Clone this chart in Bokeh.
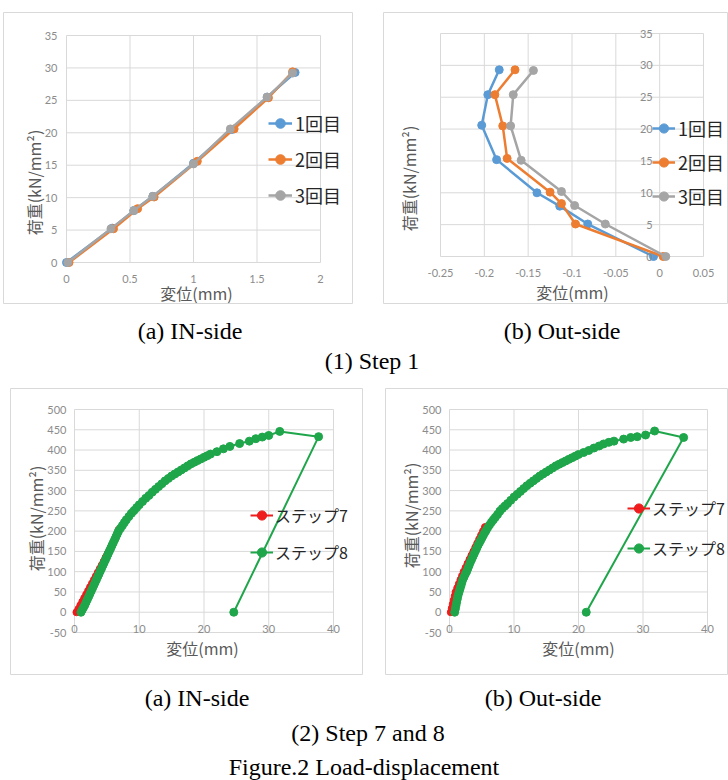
import math
from bokeh.plotting import figure
from bokeh.models import (ColumnDataSource, Legend, LegendItem, Label,
                          Range1d, Div, Spacer)
from bokeh.layouts import row, column
from bokeh.embed import file_html
from bokeh.resources import INLINE
from bokeh.core.properties import value

# ---------------- data ----------------
# (1) Step 1, IN-side : displacement (mm) / load
in1_x = [0.0, 0.36, 0.53, 0.68, 1.00, 1.30, 1.58, 1.80]
in1_y = [0.0, 5.3, 8.0, 10.2, 15.3, 20.5, 25.5, 29.3]
in2_x = [0.02, 0.37, 0.56, 0.69, 1.03, 1.32, 1.59, 1.78]
in2_y = [0.0, 5.2, 8.3, 10.1, 15.6, 20.6, 25.4, 29.4]
in3_x = [0.01, 0.35, 0.53, 0.68, 1.00, 1.29, 1.58, 1.78]
in3_y = [0.0, 5.2, 8.0, 10.2, 15.2, 20.6, 25.5, 29.2]

# (1) Step 1, Out-side
out1_x = [-0.007, -0.082, -0.114, -0.140, -0.186, -0.203, -0.196, -0.183]
out1_y = [0.0, 5.1, 7.9, 10.0, 15.2, 20.6, 25.4, 29.3]
out2_x = [0.004, -0.096, -0.112, -0.125, -0.174, -0.179, -0.188, -0.165]
out2_y = [0.0, 5.1, 8.3, 10.1, 15.4, 20.5, 25.4, 29.3]
out3_x = [0.007, -0.062, -0.097, -0.112, -0.158, -0.170, -0.167, -0.144]
out3_y = [0.0, 5.1, 8.0, 10.2, 15.1, 20.5, 25.4, 29.2]

step1_names = ["1回目", "2回目", "3回目"]

# (2) Step 7 and 8, IN-side
in7_x = [0.3, 0.6, 0.9, 1.2, 1.5, 1.8, 2.1, 2.4, 2.7, 3.0, 3.3, 3.6, 3.9, 4.2,
         4.5, 4.8, 5.1, 5.4, 5.7, 6.0, 6.3, 6.6, 6.8]
in7_y = [0, 8, 17, 26, 35, 44, 53, 62, 71, 80, 89, 98, 107, 116,
         125, 135, 144, 153, 163, 172, 182, 193, 203]
in8_x = [1.0, 1.2, 1.4, 1.6, 1.8, 2.0, 2.2, 2.4, 2.6, 2.8, 3.0, 3.2, 3.4, 3.6,
         3.8, 4.0, 4.2, 4.4, 4.6, 4.8, 5.0, 5.2, 5.4, 5.6, 5.8, 6.0, 6.2, 6.4,
         6.6, 6.8, 7.1, 7.4, 7.7, 8.0, 8.4, 8.8, 9.2, 9.6, 10.0, 10.5, 11.0,
         11.5, 12.0, 12.5, 13.0, 13.5, 14.0, 14.5, 15.0, 15.5, 16.0, 16.5,
         17.0, 17.5, 18.0, 18.5, 19.0, 19.5, 20.0, 20.5, 21.0, 22.0, 23.0,
         24.0, 25.5, 27.0, 28.0, 29.0, 30.0, 31.7, 37.7, 24.6]
in8_y = [0, 6, 12, 18, 25, 32, 39, 46, 53, 60, 67, 74, 81, 88,
         95, 102, 109, 116, 123, 130, 137, 144, 151, 158, 165, 172, 179, 186,
         193, 200, 207, 214, 221, 228, 236, 244, 251, 258, 265, 273, 281,
         288, 296, 303, 310, 317, 324, 330, 336, 341, 346, 351,
         356, 361, 366, 370, 374, 378, 382, 386, 390, 396, 403,
         409, 416, 422, 428, 432, 436, 446, 433, 0]

# (2) Step 7 and 8, Out-side
out7_x = [0.2, 0.35, 0.5, 0.65, 0.8, 0.95, 1.2, 1.45, 1.7, 1.95, 2.2, 2.5,
          2.8, 3.1, 3.4, 3.7, 4.0, 4.3, 4.6, 4.9, 5.2, 5.5]
out7_y = [0, 10, 20, 30, 40, 50, 60, 70, 80, 90, 100, 110,
          120, 130, 140, 150, 160, 170, 180, 190, 200, 210]
out8_x = [0.8, 0.9, 1.0, 1.1, 1.2, 1.3, 1.45, 1.6, 1.75, 1.9, 2.05, 2.25, 2.45,
          2.65, 2.85, 3.05, 3.25, 3.45, 3.65, 3.85, 4.05, 4.25, 4.45, 4.65,
          4.85, 5.05, 5.25, 5.45, 5.65, 5.9, 6.2, 6.5, 6.8, 7.1, 7.45, 7.8,
          8.2, 8.6, 9.0, 9.5, 10.0, 10.5, 11.0, 11.5, 12.0, 12.5, 13.0, 13.5,
          14.0, 14.5, 15.0, 15.5, 16.0, 16.5, 17.0, 17.5, 18.0, 18.5, 19.0,
          19.5, 20.0, 20.8, 21.6, 22.4, 23.2, 23.9, 24.7, 25.5, 27.0, 28.1,
          29.1, 30.4, 31.8, 36.3, 21.2]
out8_y = [0, 8, 16, 24, 32, 40, 48, 56, 64, 72, 80, 87, 94,
          100, 108, 116, 124, 131, 138, 145, 152, 159, 166, 172,
          178, 184, 190, 196, 201, 208, 215, 222, 228, 234, 241, 249,
          256, 262, 268, 276, 284, 291, 298, 305, 312, 318, 324, 330,
          336, 341, 346, 351, 356, 361, 365, 369, 373, 377, 381,
          385, 389, 394, 399, 405, 410, 415, 419, 422, 427, 431,
          433, 437, 447, 431, 0]

step78_names = ["ステップ7", "ステップ8"]

# tick values / labels
tl_xticks = [0, 0.5, 1, 1.5, 2]
tl_xlabels = ["0", "0.5", "1", "1.5", "2"]
s1_yticks = [0, 5, 10, 15, 20, 25, 30, 35]
s1_ylabels = ["0", "5", "10", "15", "20", "25", "30", "35"]
tr_xticks = [-0.25, -0.2, -0.15, -0.1, -0.05, 0, 0.05]
tr_xlabels = ["-0.25", "-0.2", "-0.15", "-0.1", "-0.05", "0", "0.05"]
b_xticks = [0, 10, 20, 30, 40]
b_xlabels = ["0", "10", "20", "30", "40"]
b_yticks = [-50, 0, 50, 100, 150, 200, 250, 300, 350, 400, 450, 500]
b_ylabels = ["-50", "0", "50", "100", "150", "200", "250", "300", "350",
             "400", "450", "500"]

x_title = "変位(mm)"
y_title = "荷重(kN/mm²)"
captions_top = ["(a) IN-side", "(b) Out-side"]
caption_step1 = "(1) Step 1"
captions_bot = ["(a) IN-side", "(b) Out-side"]
caption_step78 = "(2) Step 7 and 8"
caption_fig = "Figure.2 Load-displacement"

# ---------------- styles ----------------
BLUE, ORANGE, GRAY = "#5B9BD5", "#ED7D31", "#A5A5A5"
RED, GREEN = "#EE1C1C", "#1FA64B"
GRID = "#d9d9d9"
TICK_COLOR = "#8c8c8c"
TITLE_COLOR = "#595959"
LEG_COLOR = "#262626"
CJK = "Noto Sans CJK JP"
LAT = "Lato"


class Chart:
    """Figure whose frame is the whole chart area; the Excel-like plot area
    (L, T, PW, PH in pixels) is mapped to the data extents via the ranges."""

    def __init__(self, W, H, L, T, PW, PH, xticks, yticks):
        self.x0, self.x1 = xticks[0], xticks[-1]
        self.y0, self.y1 = yticks[0], yticks[-1]
        self.sx = (self.x1 - self.x0) / PW
        self.sy = (self.y1 - self.y0) / PH
        self.W, self.H, self.L, self.T, self.PW, self.PH = W, H, L, T, PW, PH
        xr = Range1d(self.x0 - L * self.sx, self.x1 + (W - L - PW) * self.sx)
        yr = Range1d(self.y0 - (H - T - PH) * self.sy, self.y1 + T * self.sy)
        self.xs, self.ye = xr.start, yr.end
        p = figure(width=W, height=H, x_range=xr, y_range=yr,
                   x_axis_type=None, y_axis_type=None,
                   output_backend="svg", toolbar_location=None,
                   min_border=0, margin=0)
        p.outline_line_color = "#d9d9d9"
        p.background_fill_color = "white"
        p.border_fill_color = "white"
        p.grid.visible = False
        self.p = p
        # gridlines from the tick arrays
        nx, ny = len(xticks), len(yticks)
        p.segment(x0=xticks, x1=xticks, y0=[self.y0] * nx, y1=[self.y1] * nx,
                  line_color=GRID, line_width=1)
        p.segment(x0=[self.x0] * ny, x1=[self.x1] * ny, y0=yticks, y1=yticks,
                  line_color=GRID, line_width=1)

    def X(self, px):
        return self.xs + px * self.sx

    def Y(self, py):
        return self.ye - py * self.sy

    def ticklabels_x(self, ticks, labels, py):
        self.p.text(x=ticks, y=[self.Y(py)] * len(ticks), text=labels,
                    text_font=value(LAT), text_font_size="11px",
                    text_color=TICK_COLOR, text_align="center",
                    text_baseline="middle")

    def ticklabels_y(self, ticks, labels, xdata):
        self.p.text(x=[xdata] * len(ticks), y=ticks, text=labels,
                    text_font=value(LAT), text_font_size="11px",
                    text_color=TICK_COLOR, text_align="right",
                    text_baseline="middle")

    def titles(self, xpos, ypos):
        self.p.add_layout(Label(x=self.X(xpos[0]), y=self.Y(xpos[1]),
                                text=x_title, text_font=CJK,
                                text_font_size="16px", text_color=TITLE_COLOR,
                                text_align="center", text_baseline="middle"))
        self.p.add_layout(Label(x=self.X(ypos[0]), y=self.Y(ypos[1]),
                                text=y_title, text_font=CJK,
                                text_font_size="16px", text_color=TITLE_COLOR,
                                angle=math.pi / 2, text_align="center",
                                text_baseline="middle"))

    def series(self, xs, ys, color, lw, ms):
        src = ColumnDataSource(dict(x=xs, y=ys))
        l = self.p.line("x", "y", source=src, line_color=color, line_width=lw)
        s = self.p.scatter("x", "y", source=src, size=ms, fill_color=color,
                           line_color=color, marker="circle")
        return [l, s]

    def legend(self, items, left, first_center, pitch, fs, gw=24, stand=3):
        rh = 30
        sp_ = pitch - rh
        n = len(items)
        top = first_center - rh / 2
        bottom = top + n * rh + (n - 1) * sp_
        lg = Legend(items=[LegendItem(label=t, renderers=r) for t, r in items],
                    location=(left, int(round(self.H - bottom))),
                    spacing=int(sp_), padding=0, margin=0,
                    glyph_width=gw, glyph_height=rh, label_height=rh,
                    label_standoff=stand, label_text_font=CJK,
                    label_text_font_size=fs, label_text_color=LEG_COLOR,
                    border_line_color=None, background_fill_alpha=0)
        self.p.add_layout(lg)


# ---- (1a) Step 1 IN-side : box at (3,12) 350x292 ----
c1 = Chart(350, 292, 63, 23, 254, 227, tl_xticks, s1_yticks)
r1 = c1.series(in1_x, in1_y, BLUE, 2.5, 8)
r2 = c1.series(in2_x, in2_y, ORANGE, 2.5, 8)
r3 = c1.series(in3_x, in3_y, GRAY, 2.5, 8)
c1.ticklabels_x(tl_xticks, tl_xlabels, 23 + 227 + 16)
c1.ticklabels_y(s1_yticks, s1_ylabels, c1.X(63 - 9))
c1.titles((193, 280), (30, 170))
c1.legend(list(zip(step1_names, [r1, r2, r3])), 265, 111, 36, "18px")

# ---- (1b) Step 1 Out-side : box at (383,12) 345x292 ----
c2 = Chart(345, 292, 57, 21, 263, 223, tr_xticks, s1_yticks)
r1 = c2.series(out1_x, out1_y, BLUE, 2.5, 8)
r2 = c2.series(out2_x, out2_y, ORANGE, 2.5, 8)
r3 = c2.series(out3_x, out3_y, GRAY, 2.5, 8)
c2.ticklabels_x(tr_xticks, tr_xlabels, 21 + 223 + 16)
c2.ticklabels_y(s1_yticks, s1_ylabels, 0 - 7 * c2.sx)
c2.titles((189, 279), (25, 166))
c2.legend(list(zip(step1_names, [r1, r2, r3])), 269, 116, 34, "18px", gw=23)

# ---- (2a) Step 7/8 IN-side : box at (10,388) 353x287 ----
c3 = Chart(353, 287, 64, 21, 259, 223, b_xticks, b_yticks)
ra = c3.series(in7_x, in7_y, RED, 2, 7)
rb = c3.series(in8_x, in8_y, GREEN, 2, 8)
c3.ticklabels_x(b_xticks, b_xlabels, 21 + 223 - 4)
c3.ticklabels_y(b_yticks, b_ylabels, c3.X(64 - 8))
c3.titles((192, 259), (25, 130))
c3.legend(list(zip(step78_names, [ra, rb])), 240, 127, 37, "16px", gw=23, stand=2)

# ---- (2b) Step 7/8 Out-side : box at (385,388) 343x287 ----
c4 = Chart(343, 287, 64, 21, 258, 223, b_xticks, b_yticks)
ra = c4.series(out7_x, out7_y, RED, 2, 7)
rb = c4.series(out8_x, out8_y, GREEN, 2, 8)
c4.ticklabels_x(b_xticks, b_xlabels, 21 + 223 - 4)
c4.ticklabels_y(b_yticks, b_ylabels, c4.X(64 - 8))
c4.titles((193, 259), (25, 127))
c4.legend(list(zip(step78_names, [ra, rb])), 242, 120, 40, "16px", gw=23, stand=2)


def cap(text, w):
    return Div(text=('<div style="font-family:\'Liberation Serif\';font-size:24px;'
                     'line-height:24px;text-align:center;color:#000;white-space:nowrap;'
                     'width:%dpx">%s</div>' % (w, text)),
               width=w, height=24, margin=0)


def sp(w=0, h=0):
    return Spacer(width=w, height=h, margin=0)


layout = column(
    sp(728, 12),
    row(sp(3, 292), c1.p, sp(30, 292), c2.p, margin=0),
    sp(728, 15),
    row(cap(captions_top[0], 380), sp(16, 24), cap(captions_top[1], 332), margin=0),
    sp(728, 6),
    row(sp(16, 24), cap(caption_step1, 712), margin=0),
    sp(728, 15),
    row(sp(10, 287), c3.p, sp(22, 287), c4.p, margin=0),
    sp(728, 11),
    row(cap(captions_bot[0], 394), cap(captions_bot[1], 298), sp(36, 24), margin=0),
    sp(728, 11),
    row(sp(8, 24), cap(caption_step78, 720), margin=0),
    sp(728, 10),
    cap(caption_fig, 728),
    margin=0,
)

open("out.html", "w").write(file_html(layout, INLINE))
